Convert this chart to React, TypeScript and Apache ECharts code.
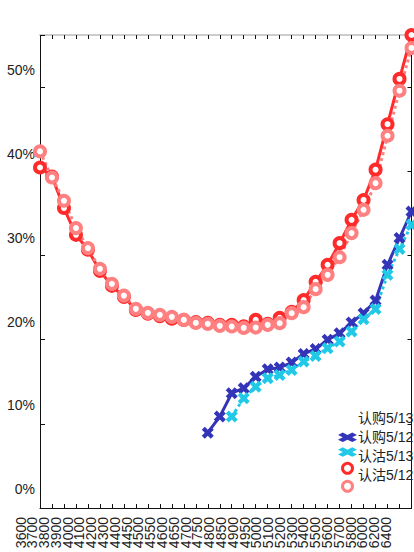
import React, { useEffect, useRef } from 'react';
import * as echarts from 'echarts';

const strikes = ['3600','3700','3800','3900','4000','4100','4200','4300','4400','4450','4500','4550','4600','4650','4700','4750','4800','4850','4900','4950','5000','5100','5200','5300','5400','5500','5600','5700','5800','6000','6200','6400'];

const seriesNames = ['认购5/13', '认购5/12', '认沽5/13', '认沽5/12'];

const yTicks = [0, 10, 20, 30, 40, 50];

const call513 = [null,null,null,null,null,null,null,null,null,null,null,null,null,null,
  8.95,10.86,13.64,14.23,15.6,16.49,16.68,17.28,18.31,18.9,19.98,20.77,22.03,23.15,24.65,28.9,32.07,35.23];

const call512 = [null,null,null,null,null,null,null,null,null,null,null,null,null,null,null,null,
  10.86,13.04,14.42,15.42,15.81,16.41,17.4,18.07,18.99,19.77,20.96,22.44,23.63,27.7,30.76,33.65];

const put513 = [40.46,39.39,35.64,32.46,30.68,28.18,26.4,25.09,23.54,23.1,
  22.8,22.5,22.35,22.1,22.0,21.76,21.76,21.6,22.35,21.88,
  22.6,23.3,24.7,26.87,28.9,31.47,34.24,36.6,40.2,45.6,
  50.98,56.2];

const put512 = [42.37,39.27,36.5,33.26,30.88,28.42,26.63,25.24,23.66,23.19,
  22.95,22.71,22.35,21.99,21.88,21.64,21.56,21.4,21.44,21.76,
  21.96,23.15,23.86,26.0,27.7,29.8,32.66,35.43,38.6,44.23,
  49.58,54.66];

const FONT = '"Liberation Sans", Arial, Helvetica, sans-serif';
const CJK = '"Liberation Sans", "Noto Sans CJK SC", sans-serif';
const crossPath = 'path://M0,3L3,0L6,3L9,0L12,3L9,6L12,9L9,12L6,9L3,12L0,9L3,6Z';
const crossWide = 'path://M0,3L6,0L12,3L18,0L24,3L18,6L24,9L18,12L12,9L6,12L0,9L6,6Z';

const BLUE = '#3434b8';
const CYAN = '#22c9e6';
const RED = '#ff2b2b';
const PINK = '#ff8080';
const AXIS = '#111111';

const yMax = 56.2;

export default function App() {
  const ref = useRef<HTMLDivElement>(null);
  useEffect(() => {
    const chart = echarts.init(ref.current!, null, { renderer: 'svg' });
    const option: any = {
      animation: false,
      grid: [
        { left: 40, right: 2.5, top: 35, bottom: 44, containLabel: false, outerBoundsMode: 'none' },
        { left: 20.5, width: 365.5, top: 35, bottom: 44, containLabel: false, outerBoundsMode: 'none' },
        { left: 40, right: 2.5, top: 17.8, bottom: 62.7, containLabel: false, outerBoundsMode: 'none' },
      ],
      xAxis: [
        {
          type: 'category', gridIndex: 0, data: strikes, boundaryGap: false, position: 'bottom',
          axisLine: { onZero: false, lineStyle: { color: AXIS, width: 1 } },
          axisTick: { inside: true, length: 4, interval: 0, lineStyle: { color: AXIS } },
          axisLabel: { show: false }, splitLine: { show: false },
        },
        {
          type: 'category', gridIndex: 0, data: strikes, boundaryGap: false, position: 'top',
          axisLine: { onZero: false, lineStyle: { color: '#cccccc', width: 2 } },
          axisTick: { inside: true, length: 4, interval: 0, lineStyle: { color: AXIS } },
          axisLabel: { show: false }, splitLine: { show: false },
        },
        {
          type: 'category', gridIndex: 1, data: strikes, boundaryGap: false, position: 'bottom',
          axisLine: { show: false, onZero: false }, axisTick: { show: false }, splitLine: { show: false },
          axisLabel: { interval: 0, rotate: 90, margin: 9, fontSize: 14, color: '#222', fontFamily: FONT },
        },
        { type: 'category', gridIndex: 2, data: strikes, show: false },
      ],
      yAxis: [
        {
          type: 'value', gridIndex: 0, min: 0, max: yMax, interval: 10, position: 'left',
          axisLine: { show: true, lineStyle: { color: AXIS, width: 1 } },
          axisTick: { show: true, inside: true, length: 5, lineStyle: { color: AXIS } },
          splitLine: { show: false }, axisLabel: { show: false },
        },
        {
          type: 'value', gridIndex: 0, min: 0, max: yMax, interval: 10, position: 'right',
          axisLine: { show: true, lineStyle: { color: AXIS, width: 1 } },
          axisTick: { show: true, inside: true, length: 4, lineStyle: { color: AXIS } },
          splitLine: { show: false }, axisLabel: { show: false },
        },
        { type: 'value', gridIndex: 1, show: false },
        {
          type: 'value', gridIndex: 2, min: 0, max: yMax, interval: 10, position: 'left',
          axisLine: { show: false }, axisTick: { show: false }, splitLine: { show: false },
          axisLabel: {
            formatter: (v: number) => (yTicks.indexOf(v) >= 0 ? v + '%' : ''),
            margin: 5, fontSize: 14, color: '#222', fontFamily: FONT,
          },
        },
      ],
      legend: [
        {
          orient: 'vertical', left: 334, top: 406.3, itemWidth: 14, itemHeight: 14, itemGap: 5,
          icon: 'none', data: seriesNames, selectedMode: false,
          textStyle: { fontSize: 14, color: '#222', fontFamily: CJK },
        },
        {
          orient: 'vertical', left: 333, top: 427.3, itemWidth: 19, itemHeight: 10, itemGap: 5,
          selectedMode: false, formatter: () => '',
          data: [
            { name: seriesNames[0], icon: crossWide, itemStyle: { color: BLUE, borderWidth: 0 } },
            { name: seriesNames[1], icon: crossWide, itemStyle: { color: CYAN, borderWidth: 0 } },
            { name: seriesNames[2], icon: 'circle', itemStyle: { color: '#fff', borderColor: RED, borderWidth: 3 } },
            { name: seriesNames[3], icon: 'circle', itemStyle: { color: '#fff', borderColor: PINK, borderWidth: 3 } },
          ],
          textStyle: { fontSize: 14, color: '#222', fontFamily: CJK },
        },
      ],
      series: [
        {
          name: seriesNames[0], type: 'line', data: call513, xAxisIndex: 0, yAxisIndex: 0,
          symbol: crossPath, symbolSize: 12, showAllSymbol: true, clip: false,
          lineStyle: { color: BLUE, width: 3 }, itemStyle: { color: BLUE },
        },
        {
          name: seriesNames[1], type: 'line', data: call512, xAxisIndex: 0, yAxisIndex: 0,
          symbol: crossPath, symbolSize: 12, showAllSymbol: true, clip: false,
          lineStyle: { color: CYAN, width: 3, type: [3, 3] }, itemStyle: { color: CYAN },
        },
        {
          name: seriesNames[2], type: 'line', data: put513, xAxisIndex: 0, yAxisIndex: 0,
          symbol: 'circle', symbolSize: 10, showAllSymbol: true, clip: false,
          lineStyle: { color: RED, width: 3 }, itemStyle: { color: '#fff', borderColor: RED, borderWidth: 4 },
        },
        {
          name: seriesNames[3], type: 'line', data: put512, xAxisIndex: 0, yAxisIndex: 0,
          symbol: 'circle', symbolSize: 10, showAllSymbol: true, clip: false,
          lineStyle: { color: PINK, width: 3, type: [3, 3] }, itemStyle: { color: '#fff', borderColor: PINK, borderWidth: 4 },
        },
      ],
    };
    chart.setOption(option);
    return () => chart.dispose();
  }, []);
  return <div ref={ref} style={{ position: 'absolute', left: 0, top: 0, width: 414, height: 552 }} />;
}
